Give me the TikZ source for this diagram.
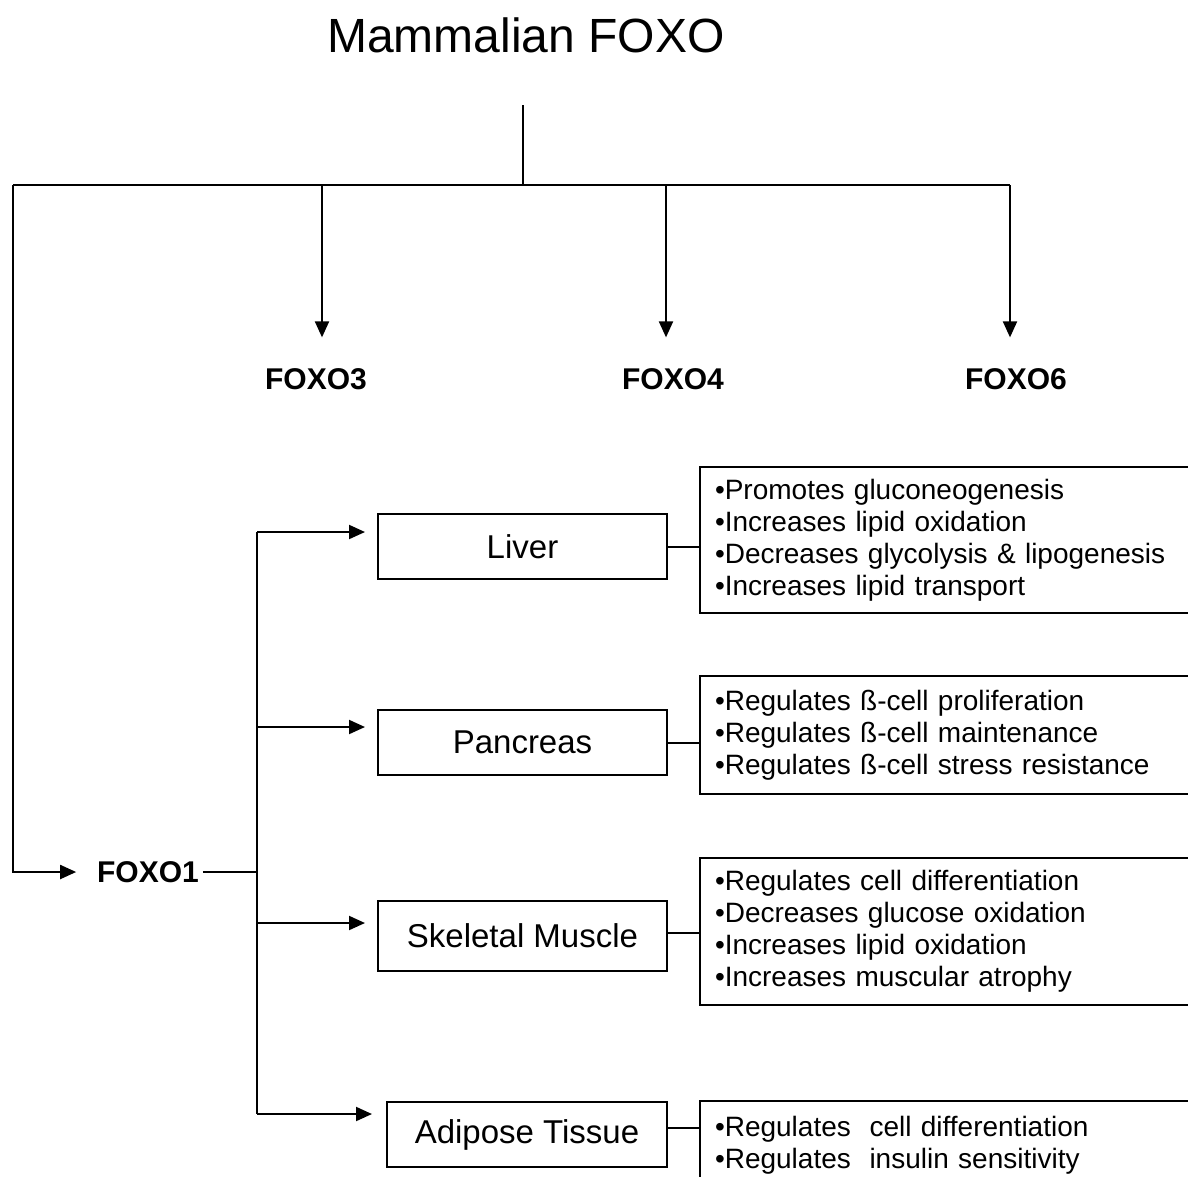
\documentclass[tikz,border=0pt]{standalone}
\usepackage{fontspec}
\setmainfont{Liberation Sans}
\usetikzlibrary{arrows.meta,calc}
\begin{document}
\begin{tikzpicture}[x=1pt,y=-1pt,
  line width=2pt,
  arr/.style={-{Triangle[length=16pt,width=14pt]}},
  organ/.style={draw,line width=2pt,minimum width=289pt,minimum height=65pt,inner sep=0pt,font=\fontsize{33}{36}\selectfont},
  infobox/.style={draw,line width=2pt,anchor=north west,align=left,text width=480pt,inner xsep=15pt,font=\fontsize{28}{32}\selectfont},
  gene/.style={font=\fontsize{30}{34}\selectfont\bfseries,inner sep=3pt}]
\useasboundingbox (0,0) rectangle (1188,1176);
% title and top tree
\node[font=\fontsize{48}{52}\selectfont] (title) at (526,35) {Mammalian FOXO};
\coordinate (top) at (523,105);
\coordinate (hub) at (523,185);
\coordinate (hl) at (13,185);
\coordinate (h3) at (322,185);
\coordinate (h4) at (666,185);
\coordinate (h6) at (1010,185);
\node[gene] (foxo3) at (316,379) {FOXO3};
\node[gene] (foxo4) at (673,379) {FOXO4};
\node[gene] (foxo6) at (1016,379) {FOXO6};
\draw (top) -- (hub);
\draw (hl) -- (h6);
\draw[arr,shorten >=27pt] (h3) -- (h3 |- foxo3.north);
\draw[arr,shorten >=27pt] (h4) -- (h4 |- foxo4.north);
\draw[arr,shorten >=27pt] (h6) -- (h6 |- foxo6.north);
% FOXO1
\node[gene] (foxo1) at (148,872) {FOXO1};
\draw[arr,shorten >=17pt] (hl) |- (foxo1.west);
\coordinate (bj) at (257,872);
\draw (foxo1.east) -- (bj);
% tissue boxes
\node[organ] (liver) at (522.5,546.5) {Liver};
\node[organ] (pancreas) at (522.5,742.5) {Pancreas};
\node[organ,minimum height=70pt] (muscle) at (522.5,936) {Skeletal Muscle};
\node[organ,minimum width=280pt] (adipose) at (527,1134.5) {Adipose Tissue};
\coordinate (b1) at (257,532);
\coordinate (b2) at (257,727);
\coordinate (b3) at (257,923);
\coordinate (b4) at (257,1114);
\draw (b1) -- (b4);
\draw[arr,shorten >=12pt] (b1) -- (b1 -| liver.west);
\draw[arr,shorten >=12pt] (b2) -- (b2 -| pancreas.west);
\draw[arr,shorten >=12pt] (b3) -- (b3 -| muscle.west);
\draw[arr,shorten >=14pt] (b4) -- (b4 -| adipose.west);
% info boxes
\node[infobox,minimum height=146pt] (iliver) at (699,466) {%
•Promotes gluconeogenesis\\
•Increases lipid oxidation\\
•Decreases glycolysis \& lipogenesis\\
•Increases lipid transport};
\node[infobox,minimum height=118pt] (ipancreas) at (699,675) {%
•Regulates ß-cell proliferation\\
•Regulates ß-cell maintenance\\
•Regulates ß-cell stress resistance};
\node[infobox,minimum height=147pt] (imuscle) at (699,857) {%
•Regulates cell differentiation\\
•Decreases glucose oxidation\\
•Increases lipid oxidation\\
•Increases muscular atrophy};
\node[infobox,inner ysep=15pt] (iadipose) at (699,1100) {%
•Regulates\ \ cell differentiation\\
•Regulates\ \ insulin sensitivity};
\draw (liver.east) -- (liver.east -| iliver.west);
\draw (pancreas.east) -- (pancreas.east -| ipancreas.west);
\draw ([yshift=3pt]muscle.east) -- ([yshift=3pt]muscle.east -| imuscle.west);
\draw ([yshift=7pt]adipose.east) -- ([yshift=7pt]adipose.east -| iadipose.west);
\end{tikzpicture}
\end{document}
